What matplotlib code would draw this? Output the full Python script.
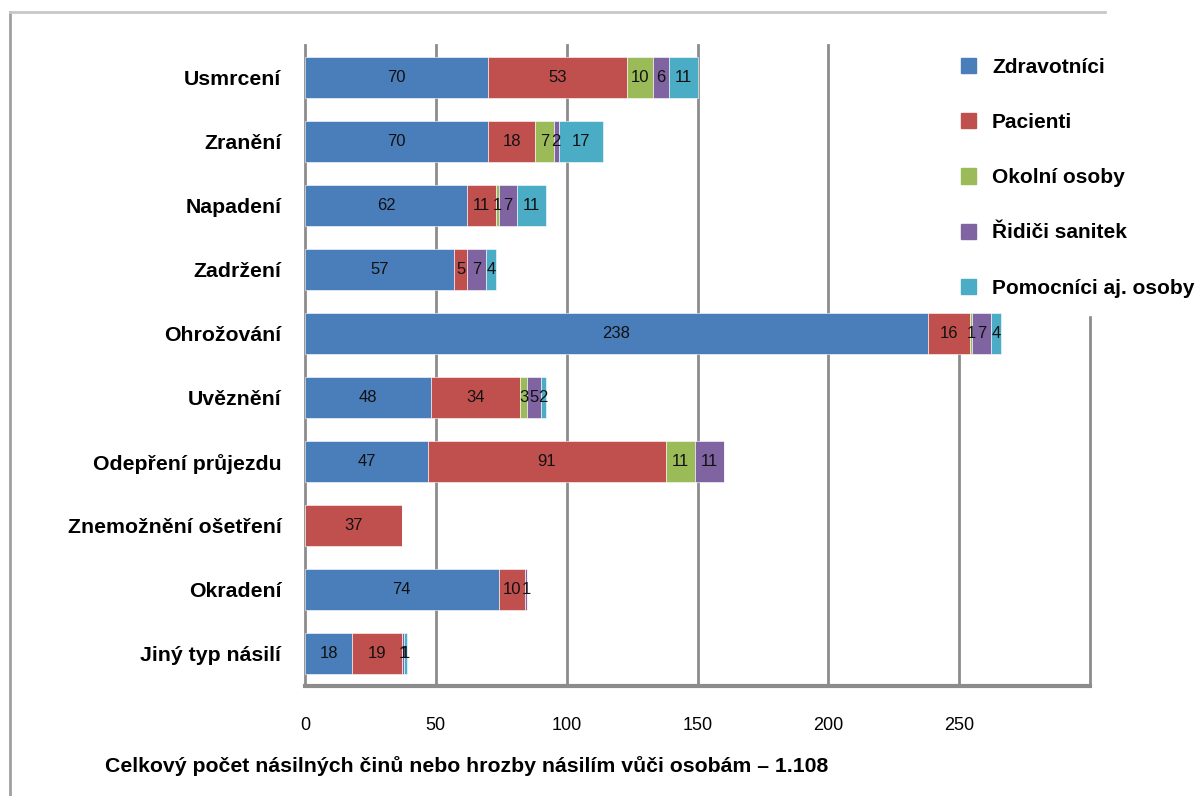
import matplotlib.pyplot as plt
from matplotlib.patches import Patch
from matplotlib.lines import Line2D
import numpy as np

# --- data ---
kategorie = ["Usmrcení", "Zranění", "Napadení", "Zadržení", "Ohrožování",
             "Uvěznění", "Odepření průjezdu", "Znemožnění ošetření",
             "Okradení", "Jiný typ násilí"]
skupiny = ["Zdravotníci", "Pacienti", "Okolní osoby", "Řidiči sanitek",
           "Pomocníci aj. osoby"]
zdravotnici = [70, 70, 62, 57, 238, 48, 47, 0, 74, 18]
pacienti = [53, 18, 11, 5, 16, 34, 91, 37, 10, 19]
okolni = [10, 7, 1, 0, 1, 3, 11, 0, 0, 0]
ridici = [6, 2, 7, 7, 7, 5, 11, 0, 1, 1]
pomocnici = [11, 17, 11, 4, 4, 2, 0, 0, 0, 1]
x_ticks = [0, 50, 100, 150, 200, 250]
popis_x = "Celkový počet násilných činů nebo hrozby násilím vůči osobám – 1.108"

barvy = ["#4A7EBB", "#C0504D", "#9BBB59", "#8064A2", "#4BACC6"]

plt.rcParams['font.family'] = ['Liberation Sans', 'DejaVu Sans']

fig = plt.figure(figsize=(11.99, 7.96), dpi=100)
ax = fig.add_axes([305 / 1199, 1 - 686 / 796, 785 / 1199, 641 / 796])

y = np.arange(len(kategorie))
left = np.zeros(len(kategorie))
for serie, barva, jmeno in zip([zdravotnici, pacienti, okolni, ridici, pomocnici], barvy, skupiny):
    vals = np.array(serie, dtype=float)
    ax.barh(y, vals, left=left, height=0.64, color=barva,
            edgecolor="white", linewidth=0.4, label=jmeno, zorder=3)
    for i, v in enumerate(vals):
        if v > 0:
            ax.text(left[i] + v / 2, y[i], f"{int(v)}", ha="center", va="center",
                    fontsize=12, color="#111111", zorder=4)
    left += vals

ax.set_xlim(0, 300)
ax.set_ylim(len(kategorie) - 0.5, -0.5)
ax.set_yticks(y)
ax.set_yticklabels(kategorie, fontsize=15.3, fontweight="bold")
ax.set_xticks(x_ticks)
ax.set_xticklabels([str(t) for t in x_ticks], fontsize=13)
ax.tick_params(axis="x", length=0, pad=22)
ax.tick_params(axis="y", length=0, pad=17)

for gx in [0, 50, 100, 150, 200, 250, 300]:
    ax.axvline(gx, color="#8C8C8C", linewidth=2, zorder=1, clip_on=False)

for s in ["top", "right", "left"]:
    ax.spines[s].set_visible(False)
ax.spines["bottom"].set_color("#8C8C8C")
ax.spines["bottom"].set_linewidth(3)

# legenda pod sloupci, ale nad mrizkou
handles = [Patch(facecolor=c, edgecolor=c) for c in barvy]
leg = ax.legend(handles, skupiny, loc="upper left",
                bbox_to_anchor=(943 / 1199, 1 - 40 / 796),
                bbox_transform=fig.transFigure,
                frameon=True, facecolor="white", edgecolor="white", framealpha=1,
                handlelength=0.75, handleheight=0.75, handletextpad=0.75,
                labelspacing=1.74, borderpad=0.85, borderaxespad=0,
                prop={"size": 15, "weight": "bold"})
leg.set_zorder(2)
leg.set_clip_on(False)

fig.text(105 / 1199, 1 - 766 / 796, popis_x, fontsize=15.3, fontweight="bold",
         ha="left", va="center")

# outer frame
fig.add_artist(Line2D([10 / 1199, 10 / 1199], [0, 1 - 12 / 796],
                      transform=fig.transFigure, color="#A0A0A0", linewidth=2))
fig.add_artist(Line2D([10 / 1199, 1105 / 1199], [1 - 12 / 796, 1 - 12 / 796],
                      transform=fig.transFigure, color="#C8C8C8", linewidth=2))

fig.savefig("out.png", dpi=100)
